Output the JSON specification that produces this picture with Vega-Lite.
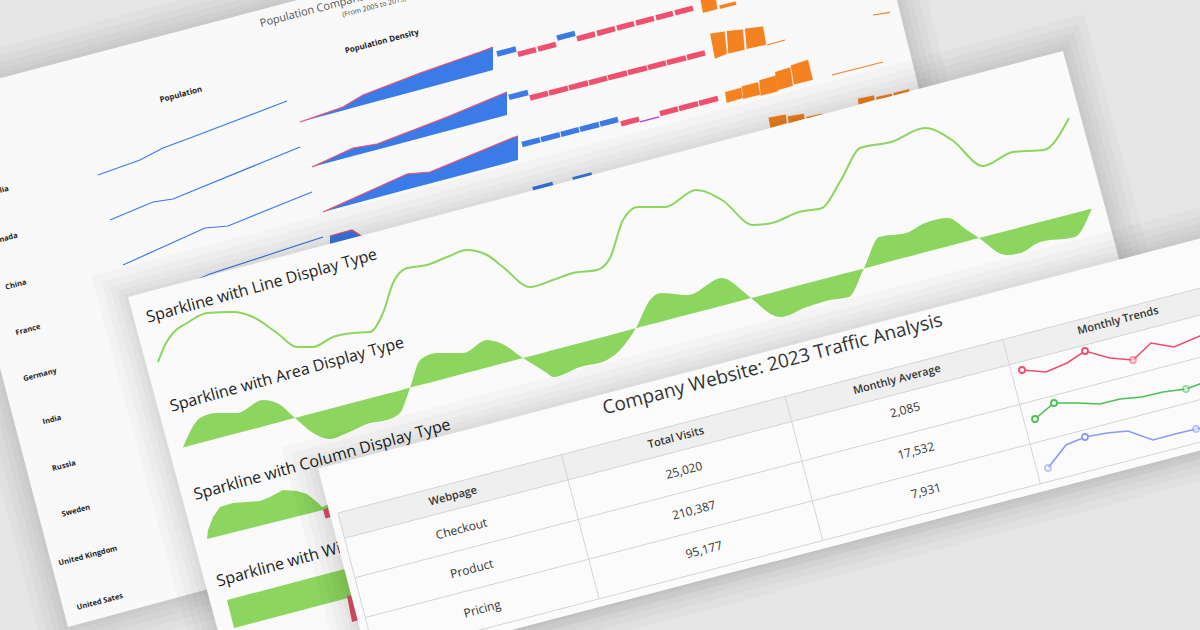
{
  "$schema": "https://vega.github.io/schema/vega-lite/v6.json",
  "width": 1200,
  "height": 630,
  "padding": 0,
  "autosize": {"type": "none"},
  "background": "#e6e6e6",
  "config": {"view": {"stroke": null}, "font": "Open Sans"},
  "resolve": {"scale": {"color": "independent", "stroke": "independent", "opacity": "independent"}},
  "encoding": {
    "x": {"field": "x", "type": "quantitative", "scale": {"domain": [0, 1200], "nice": false, "zero": false}, "axis": null},
    "y": {"field": "y", "type": "quantitative", "scale": {"domain": [0, 630], "nice": false, "zero": false, "reverse": true}, "axis": null}
  },
  "datasets": {
    "backShadow": [
      {"id": "s1", "i": 0, "x": -75.9, "y": 94.2}, {"id": "s1", "i": 1, "x": 862.8, "y": -152.9}, {"id": "s1", "i": 2, "x": 995.9, "y": 380.8}, {"id": "s1", "i": 3, "x": 65.2, "y": 631.9},
      {"id": "s2", "i": 0, "x": -82, "y": 90.6}, {"id": "s2", "i": 1, "x": 866.4, "y": -159}, {"id": "s2", "i": 2, "x": 1002, "y": 384.4}, {"id": "s2", "i": 3, "x": 61.6, "y": 638},
      {"id": "s3", "i": 0, "x": -89.4, "y": 86.4}, {"id": "s3", "i": 1, "x": 870.6, "y": -166.4}, {"id": "s3", "i": 2, "x": 1009.4, "y": 388.6}, {"id": "s3", "i": 3, "x": 57.4, "y": 645.4},
      {"id": "s4", "i": 0, "x": -98, "y": 81.4}, {"id": "s4", "i": 1, "x": 875.6, "y": -175}, {"id": "s4", "i": 2, "x": 1018, "y": 393.6}, {"id": "s4", "i": 3, "x": 52.4, "y": 654},
      {"id": "s5", "i": 0, "x": -107.8, "y": 75.8}, {"id": "s5", "i": 1, "x": 881.2, "y": -184.8}, {"id": "s5", "i": 2, "x": 1027.8, "y": 399.2}, {"id": "s5", "i": 3, "x": 46.8, "y": 663.8}
    ],
    "backPanel": [
      {"id": "p", "i": 0, "x": -71, "y": 97}, {"id": "p", "i": 1, "x": 860, "y": -148}, {"id": "p", "i": 2, "x": 991, "y": 378}, {"id": "p", "i": 3, "x": 68, "y": 627}
    ],
    "midShadow": [
      {"id": "s1", "i": 0, "x": 123.1, "y": 294.2}, {"id": "s1", "i": 1, "x": 1065.8, "y": 46.1}, {"id": "s1", "i": 2, "x": 1171.9, "y": 439.8}, {"id": "s1", "i": 3, "x": 229.2, "y": 687.9},
      {"id": "s2", "i": 0, "x": 117, "y": 290.6}, {"id": "s2", "i": 1, "x": 1069.4, "y": 40}, {"id": "s2", "i": 2, "x": 1178, "y": 443.4}, {"id": "s2", "i": 3, "x": 225.6, "y": 694},
      {"id": "s3", "i": 0, "x": 109.6, "y": 286.4}, {"id": "s3", "i": 1, "x": 1073.6, "y": 32.6}, {"id": "s3", "i": 2, "x": 1185.4, "y": 447.6}, {"id": "s3", "i": 3, "x": 221.4, "y": 701.4},
      {"id": "s4", "i": 0, "x": 101, "y": 281.4}, {"id": "s4", "i": 1, "x": 1078.6, "y": 24}, {"id": "s4", "i": 2, "x": 1194, "y": 452.6}, {"id": "s4", "i": 3, "x": 216.4, "y": 710},
      {"id": "s5", "i": 0, "x": 91.2, "y": 275.8}, {"id": "s5", "i": 1, "x": 1084.2, "y": 14.2}, {"id": "s5", "i": 2, "x": 1203.8, "y": 458.2}, {"id": "s5", "i": 3, "x": 210.8, "y": 719.8}
    ],
    "midPanel": [
      {"id": "p", "i": 0, "x": 128, "y": 297}, {"id": "p", "i": 1, "x": 1063, "y": 51}, {"id": "p", "i": 2, "x": 1167, "y": 437}, {"id": "p", "i": 3, "x": 232, "y": 683}
    ],
    "frontShadow": [
      {"id": "s1", "i": 0, "x": 313.2, "y": 465.7}, {"id": "s1", "i": 1, "x": 1296.5, "y": 209.3}, {"id": "s1", "i": 2, "x": 1350.2, "y": 415.4}, {"id": "s1", "i": 3, "x": 367, "y": 671.8},
      {"id": "s2", "i": 0, "x": 307.1, "y": 462.2}, {"id": "s2", "i": 1, "x": 1300, "y": 203.2}, {"id": "s2", "i": 2, "x": 1356.3, "y": 418.9}, {"id": "s2", "i": 3, "x": 363.5, "y": 677.9},
      {"id": "s3", "i": 0, "x": 299.8, "y": 457.9}, {"id": "s3", "i": 1, "x": 1304.3, "y": 195.9}, {"id": "s3", "i": 2, "x": 1363.6, "y": 423.2}, {"id": "s3", "i": 3, "x": 359.2, "y": 685.2},
      {"id": "s4", "i": 0, "x": 291.3, "y": 452.9}, {"id": "s4", "i": 1, "x": 1309.3, "y": 187.4}, {"id": "s4", "i": 2, "x": 1372.1, "y": 428.2}, {"id": "s4", "i": 3, "x": 354.2, "y": 693.7},
      {"id": "s5", "i": 0, "x": 281.5, "y": 447.2}, {"id": "s5", "i": 1, "x": 1315, "y": 177.6}, {"id": "s5", "i": 2, "x": 1381.9, "y": 433.9}, {"id": "s5", "i": 3, "x": 348.5, "y": 703.5}
    ],
    "frontPanel": [
      {"id": "p", "i": 0, "x": 318.1, "y": 468.6}, {"id": "p", "i": 1, "x": 1293.6, "y": 214.2}, {"id": "p", "i": 2, "x": 1345.3, "y": 412.5}, {"id": "p", "i": 3, "x": 369.9, "y": 666.9}
    ],
    "headerBand": [
      {"id": "h", "i": 0, "x": 338, "y": 513}, {"id": "h", "i": 1, "x": 1225.4, "y": 281.5}, {"id": "h", "i": 2, "x": 1232, "y": 306.7}, {"id": "h", "i": 3, "x": 344.6, "y": 538.2}
    ],
    "grid": [
      {"x": 338, "y": 513, "x2": 1225.4, "y2": 281.5},
      {"x": 344.6, "y": 538.2, "x2": 1232, "y2": 306.7},
      {"x": 354.9, "y": 577.8, "x2": 1242.3, "y2": 346.3},
      {"x": 365.3, "y": 617.5, "x2": 1252.7, "y2": 386},
      {"x": 375.6, "y": 657.2, "x2": 1263, "y2": 425.7},
      {"x": 338, "y": 513, "x2": 375.6, "y2": 657.2},
      {"x": 561.5, "y": 454.7, "x2": 599.1, "y2": 598.9},
      {"x": 785.1, "y": 396.4, "x2": 822.7, "y2": 540.6},
      {"x": 1002.8, "y": 339.6, "x2": 1040.4, "y2": 483.8}
    ],
    "countries": [
      {"t": "Australia", "x": -8, "y": 193}, {"t": "Canada", "x": 4, "y": 239}, {"t": "China", "x": 16, "y": 285},
      {"t": "France", "x": 28, "y": 330}, {"t": "Germany", "x": 40, "y": 375}, {"t": "India", "x": 52, "y": 420},
      {"t": "Russia", "x": 64, "y": 466}, {"t": "Sweden", "x": 76, "y": 511}, {"t": "United Kingdom", "x": 88, "y": 556},
      {"t": "United Sates", "x": 100, "y": 602}
    ],
    "popLines": [
      {"r": 1, "i": 0, "x": 98, "y": 175}, {"r": 1, "i": 1, "x": 140, "y": 160}, {"r": 1, "i": 2, "x": 163, "y": 148}, {"r": 1, "i": 3, "x": 190, "y": 138}, {"r": 1, "i": 4, "x": 287, "y": 101},
      {"r": 2, "i": 0, "x": 110, "y": 220}, {"r": 2, "i": 1, "x": 153, "y": 202}, {"r": 2, "i": 2, "x": 173, "y": 199}, {"r": 2, "i": 3, "x": 300, "y": 147},
      {"r": 3, "i": 0, "x": 123, "y": 265}, {"r": 3, "i": 1, "x": 205, "y": 228}, {"r": 3, "i": 2, "x": 228, "y": 226}, {"r": 3, "i": 3, "x": 312, "y": 192},
      {"r": 4, "i": 0, "x": 150, "y": 300}, {"r": 4, "i": 1, "x": 210, "y": 274}, {"r": 4, "i": 2, "x": 323, "y": 237}
    ],
    "densAreas": [
      {"r": 1, "i": 0, "x": 300, "y": 122, "b": 122}, {"r": 1, "i": 1, "x": 343, "y": 107, "b": 110.4}, {"r": 1, "i": 2, "x": 363, "y": 95, "b": 105}, {"r": 1, "i": 3, "x": 420, "y": 73, "b": 89.7}, {"r": 1, "i": 4, "x": 480, "y": 52, "b": 73.5}, {"r": 1, "i": 5, "x": 493, "y": 47, "b": 70},
      {"r": 2, "i": 0, "x": 312, "y": 167, "b": 167}, {"r": 2, "i": 1, "x": 353, "y": 148, "b": 156.1}, {"r": 2, "i": 2, "x": 377, "y": 144, "b": 149.7}, {"r": 2, "i": 3, "x": 447, "y": 117, "b": 131}, {"r": 2, "i": 4, "x": 507, "y": 92, "b": 115},
      {"r": 3, "i": 0, "x": 323, "y": 212, "b": 212}, {"r": 3, "i": 1, "x": 407, "y": 174, "b": 189.6}, {"r": 3, "i": 2, "x": 430, "y": 172, "b": 183.5}, {"r": 3, "i": 3, "x": 512, "y": 138, "b": 161.6}, {"r": 3, "i": 4, "x": 518, "y": 136, "b": 160},
      {"r": 4, "i": 0, "x": 330, "y": 236, "b": 258}, {"r": 4, "i": 1, "x": 352, "y": 230, "b": 252.2}, {"r": 4, "i": 2, "x": 363, "y": 237, "b": 249.3}, {"r": 4, "i": 3, "x": 450, "y": 222, "b": 226}, {"r": 4, "i": 4, "x": 530, "y": 195, "b": 204.7}
    ],
    "wlBars": [
      {"c": "win", "x": 497, "y": 54, "x2": 516, "y2": 49},
      {"c": "loss", "x": 518, "y": 54.4, "x2": 536, "y2": 49.7},
      {"c": "loss", "x": 538, "y": 49.1, "x2": 556, "y2": 44.4},
      {"c": "win", "x": 557, "y": 38.1, "x2": 575, "y2": 33.3},
      {"c": "loss", "x": 577, "y": 38.8, "x2": 595, "y2": 34},
      {"c": "loss", "x": 597, "y": 33.5, "x2": 615, "y2": 28.7},
      {"c": "loss", "x": 617, "y": 28.2, "x2": 634, "y2": 23.7},
      {"c": "loss", "x": 636, "y": 23.2, "x2": 654, "y2": 18.4},
      {"c": "loss", "x": 656, "y": 17.9, "x2": 673, "y2": 13.4},
      {"c": "loss", "x": 675, "y": 12.8, "x2": 693, "y2": 8.1},
      {"c": "win", "x": 509, "y": 97.4, "x2": 528, "y2": 92.5},
      {"c": "loss", "x": 530, "y": 98, "x2": 548, "y2": 93.4},
      {"c": "loss", "x": 549, "y": 93.1, "x2": 568, "y2": 88.2},
      {"c": "loss", "x": 569, "y": 87.9, "x2": 588, "y2": 83},
      {"c": "loss", "x": 589, "y": 82.8, "x2": 607, "y2": 78.1},
      {"c": "loss", "x": 608, "y": 77.9, "x2": 627, "y2": 73},
      {"c": "loss", "x": 628, "y": 72.7, "x2": 647, "y2": 67.8},
      {"c": "loss", "x": 648, "y": 67.6, "x2": 666, "y2": 62.9},
      {"c": "loss", "x": 667, "y": 62.7, "x2": 686, "y2": 57.8},
      {"c": "loss", "x": 687, "y": 57.5, "x2": 705, "y2": 52.9},
      {"c": "win", "x": 522, "y": 144.5, "x2": 540, "y2": 139.8},
      {"c": "win", "x": 541, "y": 139.6, "x2": 560, "y2": 134.6},
      {"c": "win", "x": 561, "y": 134.4, "x2": 579, "y2": 129.7},
      {"c": "win", "x": 580, "y": 129.4, "x2": 599, "y2": 124.5},
      {"c": "win", "x": 600, "y": 124.2, "x2": 618, "y2": 119.5},
      {"c": "loss", "x": 621, "y": 123.8, "x2": 639, "y2": 119.1},
      {"c": "loss", "x": 660, "y": 113.6, "x2": 678, "y2": 108.9},
      {"c": "loss", "x": 679, "y": 108.6, "x2": 698, "y2": 103.6},
      {"c": "loss", "x": 699, "y": 103.4, "x2": 718, "y2": 98.4},
      {"c": "win", "x": 533, "y": 189.6, "x2": 553, "y2": 184.4},
      {"c": "win", "x": 573, "y": 180, "x2": 592, "y2": 175}
    ],
    "thinLines": [
      {"c": "zero", "x": 640, "y": 121.8, "x2": 659, "y2": 116.9},
      {"c": "small", "x": 873, "y": 15, "x2": 890, "y2": 12.3},
      {"c": "small", "x": 767, "y": 45, "x2": 785, "y2": 40},
      {"c": "small", "x": 832, "y": 75, "x2": 883, "y2": 62}
    ],
    "orangeCols": [
      {"id": "a1", "i": 0, "x": 703, "y": 13.3}, {"id": "a1", "i": 1, "x": 718, "y": 9.3}, {"id": "a1", "i": 2, "x": 714, "y": -12}, {"id": "a1", "i": 3, "x": 699, "y": -8},
      {"id": "a2", "i": 0, "x": 720, "y": 9.3}, {"id": "a2", "i": 1, "x": 736.7, "y": 5}, {"id": "a2", "i": 2, "x": 736, "y": 1}, {"id": "a2", "i": 3, "x": 719.3, "y": 5},
      {"id": "b1", "i": 0, "x": 715, "y": 59}, {"id": "b1", "i": 1, "x": 727.3, "y": 54}, {"id": "b1", "i": 2, "x": 725, "y": 31}, {"id": "b1", "i": 3, "x": 710, "y": 33.3},
      {"id": "b2", "i": 0, "x": 728.3, "y": 54}, {"id": "b2", "i": 1, "x": 745, "y": 50}, {"id": "b2", "i": 2, "x": 743.3, "y": 29}, {"id": "b2", "i": 3, "x": 726.7, "y": 30.7},
      {"id": "b3", "i": 0, "x": 746.7, "y": 49.3}, {"id": "b3", "i": 1, "x": 766.7, "y": 45}, {"id": "b3", "i": 2, "x": 763.3, "y": 26}, {"id": "b3", "i": 3, "x": 745, "y": 28.3},
      {"id": "c1", "i": 0, "x": 726.7, "y": 103.3}, {"id": "c1", "i": 1, "x": 743.3, "y": 98.3}, {"id": "c1", "i": 2, "x": 741.7, "y": 87.3}, {"id": "c1", "i": 3, "x": 725, "y": 91.7},
      {"id": "c2", "i": 0, "x": 743.3, "y": 99.3}, {"id": "c2", "i": 1, "x": 760.7, "y": 95}, {"id": "c2", "i": 2, "x": 758.3, "y": 81.7}, {"id": "c2", "i": 3, "x": 741.7, "y": 86},
      {"id": "c3", "i": 0, "x": 760.7, "y": 96}, {"id": "c3", "i": 1, "x": 778.3, "y": 91.7}, {"id": "c3", "i": 2, "x": 776, "y": 75}, {"id": "c3", "i": 3, "x": 759.3, "y": 80},
      {"id": "c4", "i": 0, "x": 777.3, "y": 90.7}, {"id": "c4", "i": 1, "x": 793.3, "y": 86}, {"id": "c4", "i": 2, "x": 790.7, "y": 66.7}, {"id": "c4", "i": 3, "x": 775, "y": 71.7},
      {"id": "c5", "i": 0, "x": 794, "y": 85}, {"id": "c5", "i": 1, "x": 813.3, "y": 80}, {"id": "c5", "i": 2, "x": 808.3, "y": 59.3}, {"id": "c5", "i": 3, "x": 790.7, "y": 65},
      {"id": "d1", "i": 0, "x": 770.7, "y": 128.3}, {"id": "d1", "i": 1, "x": 787.3, "y": 123.3}, {"id": "d1", "i": 2, "x": 786, "y": 114}, {"id": "d1", "i": 3, "x": 768.3, "y": 117.3},
      {"id": "d2", "i": 0, "x": 788.7, "y": 124}, {"id": "d2", "i": 1, "x": 805, "y": 119.3}, {"id": "d2", "i": 2, "x": 804, "y": 113.3}, {"id": "d2", "i": 3, "x": 787.7, "y": 116},
      {"id": "d3", "i": 0, "x": 806.7, "y": 119.3}, {"id": "d3", "i": 1, "x": 822.7, "y": 115}, {"id": "d3", "i": 2, "x": 822, "y": 113.3}, {"id": "d3", "i": 3, "x": 806, "y": 116.7},
      {"id": "d4", "i": 0, "x": 858.7, "y": 105}, {"id": "d4", "i": 1, "x": 875, "y": 100}, {"id": "d4", "i": 2, "x": 874, "y": 95}, {"id": "d4", "i": 3, "x": 857.7, "y": 98.3},
      {"id": "d5", "i": 0, "x": 876.7, "y": 100}, {"id": "d5", "i": 1, "x": 892.7, "y": 96.7}, {"id": "d5", "i": 2, "x": 892, "y": 93.3}, {"id": "d5", "i": 3, "x": 876, "y": 96.7},
      {"id": "d6", "i": 0, "x": 894, "y": 96.7}, {"id": "d6", "i": 1, "x": 910, "y": 92}, {"id": "d6", "i": 2, "x": 909.3, "y": 88.7}, {"id": "d6", "i": 3, "x": 893.3, "y": 92.7}
    ],
    "lineSpark": [
      {"i": 0, "x": 158, "y": 362}, {"i": 1, "x": 165, "y": 345}, {"i": 2, "x": 173, "y": 333}, {"i": 3, "x": 187, "y": 323},
      {"i": 4, "x": 207, "y": 313}, {"i": 5, "x": 233, "y": 312}, {"i": 6, "x": 253, "y": 317}, {"i": 7, "x": 277, "y": 333},
      {"i": 8, "x": 297, "y": 347}, {"i": 9, "x": 313, "y": 347}, {"i": 10, "x": 333, "y": 337}, {"i": 11, "x": 353, "y": 333},
      {"i": 12, "x": 370, "y": 332}, {"i": 13, "x": 383, "y": 313}, {"i": 14, "x": 393, "y": 283}, {"i": 15, "x": 407, "y": 268},
      {"i": 16, "x": 427, "y": 265}, {"i": 17, "x": 447, "y": 257}, {"i": 18, "x": 467, "y": 250}, {"i": 19, "x": 487, "y": 255},
      {"i": 20, "x": 503, "y": 267}, {"i": 21, "x": 530, "y": 287}, {"i": 22, "x": 553, "y": 280}, {"i": 23, "x": 573, "y": 273},
      {"i": 24, "x": 597, "y": 270}, {"i": 25, "x": 610, "y": 258}, {"i": 26, "x": 623, "y": 220}, {"i": 27, "x": 638, "y": 207},
      {"i": 28, "x": 665, "y": 207}, {"i": 29, "x": 696, "y": 190}, {"i": 30, "x": 722, "y": 200}, {"i": 31, "x": 753, "y": 225},
      {"i": 32, "x": 772, "y": 223}, {"i": 33, "x": 799, "y": 212}, {"i": 34, "x": 822, "y": 208}, {"i": 35, "x": 841, "y": 180},
      {"i": 36, "x": 860, "y": 148}, {"i": 37, "x": 891, "y": 142}, {"i": 38, "x": 925, "y": 128}, {"i": 39, "x": 952, "y": 140},
      {"i": 40, "x": 983, "y": 166}, {"i": 41, "x": 1013, "y": 152}, {"i": 42, "x": 1044, "y": 150}, {"i": 43, "x": 1069, "y": 118}
    ],
    "areaSpark": [
      {"x": 183, "y": 447.5, "b": 447.5}, {"x": 200, "y": 418, "b": 443}, {"x": 217, "y": 413, "b": 438.5}, {"x": 237, "y": 413, "b": 433.3},
      {"x": 263, "y": 400, "b": 426.4}, {"x": 277, "y": 403, "b": 422.7}, {"x": 295, "y": 418, "b": 418}, {"x": 313, "y": 433, "b": 413.3},
      {"x": 330, "y": 439, "b": 408.8}, {"x": 347, "y": 433, "b": 404.3}, {"x": 370, "y": 423, "b": 398.3}, {"x": 387, "y": 420, "b": 393.8},
      {"x": 400, "y": 413, "b": 390.4}, {"x": 410, "y": 388, "b": 387.8}, {"x": 420, "y": 360, "b": 385.1}, {"x": 437, "y": 353, "b": 380.7},
      {"x": 463, "y": 353, "b": 373.8}, {"x": 487, "y": 340, "b": 367.5}, {"x": 500, "y": 343, "b": 364.1}, {"x": 523, "y": 358, "b": 358},
      {"x": 547, "y": 373, "b": 351.7}, {"x": 553, "y": 377, "b": 350.1}, {"x": 580, "y": 367, "b": 343}, {"x": 607, "y": 360, "b": 335.9},
      {"x": 620, "y": 350, "b": 332.5}, {"x": 636, "y": 328, "b": 328.3}, {"x": 650, "y": 300, "b": 324.6}, {"x": 661, "y": 293, "b": 321.7},
      {"x": 688, "y": 295, "b": 314.6}, {"x": 722, "y": 278, "b": 305.7}, {"x": 745, "y": 293, "b": 299.7}, {"x": 751, "y": 298, "b": 298.1},
      {"x": 780, "y": 317, "b": 290.4}, {"x": 807, "y": 307, "b": 283.3}, {"x": 830, "y": 300, "b": 277.3}, {"x": 849, "y": 297, "b": 272.3},
      {"x": 864, "y": 268, "b": 268.4}, {"x": 879, "y": 237, "b": 264.4}, {"x": 906, "y": 233, "b": 257.3}, {"x": 925, "y": 223, "b": 252.3},
      {"x": 948, "y": 218, "b": 246.3}, {"x": 967, "y": 230, "b": 241.3}, {"x": 979, "y": 238, "b": 238.1}, {"x": 1006, "y": 255, "b": 231},
      {"x": 1021, "y": 253, "b": 227.1}, {"x": 1040, "y": 242, "b": 222.1}, {"x": 1075, "y": 237, "b": 212.9}, {"x": 1092, "y": 208, "b": 208.4}
    ],
    "colSpark": [
      {"x": 207, "y": 539, "b": 539}, {"x": 208, "y": 530, "b": 538.8}, {"x": 213, "y": 517, "b": 537.5}, {"x": 220, "y": 507, "b": 535.8},
      {"x": 233, "y": 503, "b": 532.5}, {"x": 247, "y": 502, "b": 529}, {"x": 260, "y": 501, "b": 525.8}, {"x": 270, "y": 497, "b": 523.3},
      {"x": 283, "y": 490, "b": 520}, {"x": 297, "y": 491, "b": 516.5}, {"x": 307, "y": 494, "b": 514}, {"x": 317, "y": 502, "b": 511.5},
      {"x": 322, "y": 507, "b": 510.3}, {"x": 340, "y": 500, "b": 506}, {"x": 360, "y": 495, "b": 501}
    ],
    "midPolys": [
      {"id": "g", "c": "win", "i": 0, "x": 227, "y": 600}, {"id": "g", "c": "win", "i": 1, "x": 360, "y": 565}, {"id": "g", "c": "win", "i": 2, "x": 367, "y": 593}, {"id": "g", "c": "win", "i": 3, "x": 234, "y": 628},
      {"id": "r", "c": "loss", "i": 0, "x": 347, "y": 596}, {"id": "r", "c": "loss", "i": 1, "x": 353, "y": 594.5}, {"id": "r", "c": "loss", "i": 2, "x": 359, "y": 620}, {"id": "r", "c": "loss", "i": 3, "x": 352, "y": 622},
      {"id": "r2", "c": "loss", "i": 0, "x": 323, "y": 509.5}, {"id": "r2", "c": "loss", "i": 1, "x": 328, "y": 508}, {"id": "r2", "c": "loss", "i": 2, "x": 330.5, "y": 517}, {"id": "r2", "c": "loss", "i": 3, "x": 325.5, "y": 518.5}
    ],
    "midTitles": [
      {"t": "Sparkline with Line Display Type", "x": 148, "y": 322.7},
      {"t": "Sparkline with Area Display Type", "x": 171.7, "y": 411.7},
      {"t": "Sparkline with Column Display Type", "x": 195.5, "y": 500},
      {"t": "Sparkline with WinLoss Display Type", "x": 218.3, "y": 586.7}
    ],
    "headText": [
      {"t": "Webpage", "x": 453, "y": 496.4},
      {"t": "Total Visits", "x": 676, "y": 438},
      {"t": "Monthly Average", "x": 897, "y": 380},
      {"t": "Monthly Trends", "x": 1118, "y": 321}
    ],
    "cellText": [
      {"t": "Checkout", "x": 461.5, "y": 529}, {"t": "25,020", "x": 684, "y": 470.5}, {"t": "2,085", "x": 905, "y": 410},
      {"t": "Product", "x": 471.9, "y": 569}, {"t": "210,387", "x": 694, "y": 510.2}, {"t": "17,532", "x": 916, "y": 451},
      {"t": "Pricing", "x": 482.2, "y": 609}, {"t": "95,177", "x": 704, "y": 550}, {"t": "7,931", "x": 926, "y": 491}
    ],
    "trends": [
      {"s": "Checkout", "i": 0, "x": 1022, "y": 370}, {"s": "Checkout", "i": 1, "x": 1046, "y": 372}, {"s": "Checkout", "i": 2, "x": 1067, "y": 363},
      {"s": "Checkout", "i": 3, "x": 1085, "y": 351}, {"s": "Checkout", "i": 4, "x": 1110, "y": 358}, {"s": "Checkout", "i": 5, "x": 1133, "y": 360},
      {"s": "Checkout", "i": 6, "x": 1151, "y": 343}, {"s": "Checkout", "i": 7, "x": 1174, "y": 347}, {"s": "Checkout", "i": 8, "x": 1200, "y": 336}, {"s": "Checkout", "i": 9, "x": 1215, "y": 326},
      {"s": "Product", "i": 0, "x": 1035, "y": 419}, {"s": "Product", "i": 1, "x": 1054, "y": 403}, {"s": "Product", "i": 2, "x": 1077, "y": 403},
      {"s": "Product", "i": 3, "x": 1100, "y": 404}, {"s": "Product", "i": 4, "x": 1120, "y": 399}, {"s": "Product", "i": 5, "x": 1142, "y": 397},
      {"s": "Product", "i": 6, "x": 1163, "y": 392}, {"s": "Product", "i": 7, "x": 1186, "y": 389}, {"s": "Product", "i": 8, "x": 1205, "y": 382},
      {"s": "Pricing", "i": 0, "x": 1048, "y": 468}, {"s": "Pricing", "i": 1, "x": 1066, "y": 445}, {"s": "Pricing", "i": 2, "x": 1085, "y": 437},
      {"s": "Pricing", "i": 3, "x": 1107, "y": 433}, {"s": "Pricing", "i": 4, "x": 1128, "y": 431}, {"s": "Pricing", "i": 5, "x": 1153, "y": 440},
      {"s": "Pricing", "i": 6, "x": 1175, "y": 434}, {"s": "Pricing", "i": 7, "x": 1196, "y": 429}, {"s": "Pricing", "i": 8, "x": 1210, "y": 426}
    ],
    "markers": [
      {"s": "Checkout", "lvl": "strong", "x": 1022, "y": 370}, {"s": "Checkout", "lvl": "strong", "x": 1085, "y": 351}, {"s": "Checkout", "lvl": "light", "x": 1133, "y": 360},
      {"s": "Product", "lvl": "strong", "x": 1035, "y": 419}, {"s": "Product", "lvl": "strong", "x": 1054, "y": 403}, {"s": "Product", "lvl": "light", "x": 1186, "y": 389},
      {"s": "Pricing", "lvl": "light", "x": 1048, "y": 468}, {"s": "Pricing", "lvl": "strong", "x": 1085, "y": 437}, {"s": "Pricing", "lvl": "light", "x": 1196, "y": 429}
    ]
  },
  "layer": [
    {"data": {"name": "backShadow"}, "mark": {"type": "line", "filled": true, "color": "#000000", "opacity": 0.022},
     "encoding": {"detail": {"field": "id"}, "order": {"field": "i", "type": "quantitative"}}},
    {"data": {"name": "backPanel"}, "mark": {"type": "line", "filled": true, "color": "#f9f9f9"},
     "encoding": {"detail": {"field": "id"}, "order": {"field": "i", "type": "quantitative"}}},
    {"data": {"values": [{"t": "Population Comparison", "x": 261, "y": 27}]},
     "mark": {"type": "text", "angle": -14.7, "align": "left", "baseline": "alphabetic", "fontSize": 11, "color": "#555555"},
     "encoding": {"text": {"field": "t"}}},
    {"data": {"values": [{"t": "(From 2005 to 2015)", "x": 343, "y": 17}]},
     "mark": {"type": "text", "angle": -14.7, "align": "left", "baseline": "alphabetic", "fontSize": 7, "color": "#444444"},
     "encoding": {"text": {"field": "t"}}},
    {"data": {"values": [{"t": "Population", "x": 181, "y": 95}, {"t": "Population Density", "x": 382, "y": 42}]},
     "mark": {"type": "text", "angle": -14.7, "align": "center", "baseline": "middle", "fontSize": 8, "fontWeight": "bold", "color": "#222222"},
     "encoding": {"text": {"field": "t"}}},
    {"data": {"name": "countries"},
     "mark": {"type": "text", "angle": -14.7, "align": "center", "baseline": "middle", "fontSize": 7.5, "fontWeight": "bold", "color": "#222222"},
     "encoding": {"text": {"field": "t"}}},
    {"data": {"name": "popLines"}, "mark": {"type": "line", "color": "#3b7be8", "strokeWidth": 1.2},
     "encoding": {"detail": {"field": "r"}, "order": {"field": "i", "type": "quantitative"}}},
    {"data": {"name": "densAreas"}, "mark": {"type": "area", "color": "#3b7be8", "opacity": 1},
     "encoding": {
       "y": {"field": "y", "type": "quantitative", "stack": null, "scale": {"domain": [0, 630], "nice": false, "zero": false, "reverse": true}, "axis": null},
       "y2": {"field": "b"}, "detail": {"field": "r"}}},
    {"data": {"name": "densAreas"}, "mark": {"type": "line", "color": "#f0506e", "strokeWidth": 1.2},
     "encoding": {"detail": {"field": "r"}, "order": {"field": "i", "type": "quantitative"}}},
    {"data": {"name": "wlBars"}, "mark": {"type": "rule", "strokeWidth": 5.5, "strokeCap": "butt"},
     "encoding": {"x2": {"field": "x2"}, "y2": {"field": "y2"},
       "color": {"field": "c", "type": "nominal", "scale": {"domain": ["win", "loss"], "range": ["#3b7be8", "#f0506e"]}, "legend": null}}},
    {"data": {"name": "thinLines"}, "mark": {"type": "rule", "strokeWidth": 1.2},
     "encoding": {"x2": {"field": "x2"}, "y2": {"field": "y2"},
       "color": {"field": "c", "type": "nominal", "scale": {"domain": ["zero", "small"], "range": ["#a43cf0", "#f58220"]}, "legend": null}}},
    {"data": {"name": "orangeCols"}, "mark": {"type": "line", "filled": true, "fill": "#f58220", "stroke": "#ffffff", "strokeWidth": 0.6},
     "encoding": {"detail": {"field": "id"}, "order": {"field": "i", "type": "quantitative"}}},
    {"data": {"name": "midShadow"}, "mark": {"type": "line", "filled": true, "color": "#000000", "opacity": 0.024},
     "encoding": {"detail": {"field": "id"}, "order": {"field": "i", "type": "quantitative"}}},
    {"data": {"name": "midPanel"}, "mark": {"type": "line", "filled": true, "color": "#fafafa"},
     "encoding": {"detail": {"field": "id"}, "order": {"field": "i", "type": "quantitative"}}},
    {"data": {"name": "midTitles"},
     "mark": {"type": "text", "angle": -15.5, "align": "left", "baseline": "alphabetic", "fontSize": 16, "color": "#1e1e1e"},
     "encoding": {"text": {"field": "t"}}},
    {"data": {"name": "lineSpark"}, "mark": {"type": "line", "color": "#8cd65f", "strokeWidth": 2, "interpolate": "monotone"},
     "encoding": {"order": {"field": "i", "type": "quantitative"}}},
    {"data": {"name": "areaSpark"}, "mark": {"type": "area", "color": "#8cd65f", "opacity": 1, "interpolate": "monotone"},
     "encoding": {"y2": {"field": "b"}}},
    {"data": {"name": "colSpark"}, "mark": {"type": "area", "color": "#8cd65f", "opacity": 1},
     "encoding": {"y2": {"field": "b"}}},
    {"data": {"name": "midPolys"}, "mark": {"type": "line", "filled": true},
     "encoding": {"detail": {"field": "id"}, "order": {"field": "i", "type": "quantitative"},
       "color": {"field": "c", "type": "nominal", "scale": {"domain": ["win", "loss"], "range": ["#8cd65f", "#e0506c"]}, "legend": null}}},
    {"data": {"name": "frontShadow"}, "mark": {"type": "line", "filled": true, "color": "#000000", "opacity": 0.024},
     "encoding": {"detail": {"field": "id"}, "order": {"field": "i", "type": "quantitative"}}},
    {"data": {"name": "frontPanel"}, "mark": {"type": "line", "filled": true, "color": "#fbfbfb"},
     "encoding": {"detail": {"field": "id"}, "order": {"field": "i", "type": "quantitative"}}},
    {"data": {"name": "headerBand"}, "mark": {"type": "line", "filled": true, "color": "#efefef"},
     "encoding": {"detail": {"field": "id"}, "order": {"field": "i", "type": "quantitative"}}},
    {"data": {"name": "grid"}, "mark": {"type": "rule", "color": "#d4d4d4", "strokeWidth": 1},
     "encoding": {"x2": {"field": "x2"}, "y2": {"field": "y2"}}},
    {"data": {"values": [{"t": "Company Website: 2023 Traffic Analysis", "x": 774, "y": 370}]},
     "mark": {"type": "text", "angle": -14.7, "align": "center", "baseline": "alphabetic", "fontSize": 19, "color": "#333333"},
     "encoding": {"text": {"field": "t"}}},
    {"data": {"name": "headText"},
     "mark": {"type": "text", "angle": -14.7, "align": "center", "baseline": "middle", "fontSize": 11, "fontWeight": 600, "color": "#333333"},
     "encoding": {"text": {"field": "t"}}},
    {"data": {"name": "cellText"},
     "mark": {"type": "text", "angle": -14.7, "align": "center", "baseline": "middle", "fontSize": 12, "color": "#333333"},
     "encoding": {"text": {"field": "t"}}},
    {"data": {"name": "trends"}, "mark": {"type": "line", "strokeWidth": 1.6},
     "encoding": {"detail": {"field": "s"}, "order": {"field": "i", "type": "quantitative"},
       "color": {"field": "s", "type": "nominal", "scale": {"domain": ["Checkout", "Product", "Pricing"], "range": ["#ef4d6b", "#4cbf55", "#8a9cf6"]}, "legend": null}}},
    {"data": {"name": "markers"}, "mark": {"type": "point", "fill": "#ffffff", "filled": false, "strokeWidth": 1.8, "size": 36},
     "encoding": {
       "stroke": {"field": "s", "type": "nominal", "scale": {"domain": ["Checkout", "Product", "Pricing"], "range": ["#ef4d6b", "#4cbf55", "#8a9cf6"]}, "legend": null},
       "opacity": {"field": "lvl", "type": "nominal", "scale": {"domain": ["strong", "light"], "range": [1, 0.55]}, "legend": null}}}
  ]
}
